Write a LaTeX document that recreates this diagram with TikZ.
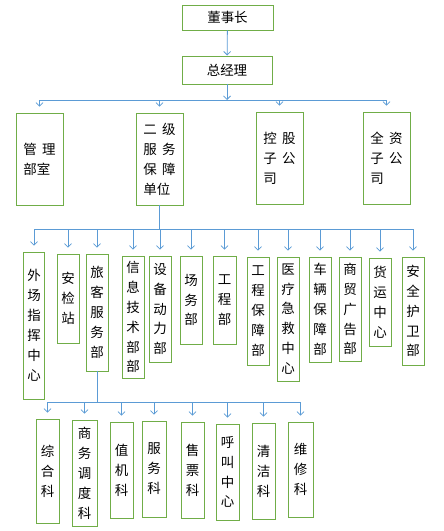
\documentclass[tikz,border=0pt]{standalone}
\usepackage{fontspec}
\newfontfamily\cjk{Noto Sans CJK SC}
\usetikzlibrary{arrows.meta}
\definecolor{boxgreen}{RGB}{112,173,71}
\definecolor{linkblue}{RGB}{91,155,213}
\newcommand{\pxu}{0.03cm}
\tikzset{
	box/.style={draw=boxgreen, line width=0.8pt, inner sep=1pt, align=center,
		font=\cjk\fontsize{11.5}{17}\selectfont},
	unitbox/.style={box, align=left, minimum width=47*\pxu, minimum height=92*\pxu},
	link/.style={draw=linkblue, line width=0.7pt},
	arr/.style={link, -{Straight Barb[length=3pt,width=6pt]}},
	down/.style={arr, shorten >=5pt},
}
\begin{document}
\begin{tikzpicture}[x=0.03cm, y=-0.03cm]
	\useasboundingbox (0,0) rectangle (443,531);
	% top
	\node[box, minimum width=91*\pxu, minimum height=25*\pxu] (ceo) at (227.5,17.5) {董事长};
	\node[box, minimum width=90*\pxu, minimum height=28*\pxu] (gm) at (227,70) {总经理};
	\draw[arr] (ceo) -- (gm);
	% second level
	\node[unitbox] (mgmt) at (39.5,159) {管\hspace{0.4em}理\\部室};
	\node[unitbox] (sec) at (159.5,159) {二\hspace{0.4em}级\\服\hspace{0.4em}务\\保\hspace{0.4em}障\\单位};
	\node[unitbox] (hold) at (279.5,158) {控\hspace{0.4em}股\\子\hspace{0.4em}公\\司};
	\node[unitbox] (full) at (386.5,158) {全\hspace{0.4em}资\\子\hspace{0.4em}公\\司};
	\coordinate (bus2) at (0,100);
	\draw[arr] (gm.south) -- (gm.south |- bus2);
	\draw[link] (mgmt.north |- bus2) -- (full.north |- bus2);
	\foreach \n in {mgmt,sec,hold,full}
		\draw[down] (\n.north |- bus2) -- (\n.north);
	% departments
	\node[box, minimum width=21*\pxu, minimum height=147*\pxu] (d1) at (34,325.5) {外\\场\\指\\挥\\中\\心};
	\node[box, minimum width=22*\pxu, minimum height=89*\pxu] (d2) at (68,298.5) {安\\检\\站};
	\node[box, minimum width=22*\pxu, minimum height=117*\pxu] (d3) at (97,312.5) {旅\\客\\服\\务\\部};
	\node[box, minimum width=22*\pxu, minimum height=122*\pxu] (d4) at (133,317) {信\\息\\技\\术\\部\\部};
	\node[box, minimum width=22*\pxu, minimum height=106*\pxu] (d5) at (160,309) {设\\备\\动\\力\\部};
	\node[box, minimum width=22*\pxu, minimum height=88*\pxu] (d6) at (191,300) {场\\务\\部};
	\node[box, minimum width=23*\pxu, minimum height=88*\pxu] (d7) at (224.5,300) {工\\程\\部};
	\node[box, minimum width=22*\pxu, minimum height=108*\pxu] (d8) at (258,311) {工\\程\\保\\障\\部};
	\node[box, minimum width=22*\pxu, minimum height=124*\pxu] (d9) at (288,319) {医\\疗\\急\\救\\中\\心};
	\node[box, minimum width=22*\pxu, minimum height=105*\pxu] (d10) at (320,309.5) {车\\辆\\保\\障\\部};
	\node[box, minimum width=22*\pxu, minimum height=104*\pxu] (d11) at (350,309) {商\\贸\\广\\告\\部};
	\node[box, minimum width=22*\pxu, minimum height=88*\pxu] (d12) at (380,302) {货\\运\\中\\心};
	\node[box, minimum width=22*\pxu, minimum height=108*\pxu] (d13) at (413,311) {安\\全\\护\\卫\\部};
	\coordinate (bus3) at (0,229);
	\draw[link] (sec) -- (sec.south |- bus3);
	\draw[link] (d1.north |- bus3) -- (d13.north |- bus3);
	\foreach \i in {1,...,13}
		\draw[down] (d\i.north |- bus3) -- (d\i.north);
	% sections
	\node[box, minimum width=23*\pxu, minimum height=104*\pxu] (k1) at (47.5,471) {综\\合\\科};
	\node[box, minimum width=25*\pxu, minimum height=106*\pxu] (k2) at (84.5,473) {商\\务\\调\\度\\科};
	\node[box, minimum width=23*\pxu, minimum height=96*\pxu] (k3) at (121.5,470) {值\\机\\科};
	\node[box, minimum width=24*\pxu, minimum height=96*\pxu] (k4) at (154,469) {服\\务\\科};
	\node[box, minimum width=23*\pxu, minimum height=96*\pxu] (k5) at (192.5,470) {售\\票\\科};
	\node[box, minimum width=23*\pxu, minimum height=96*\pxu] (k6) at (227.5,472) {呼\\叫\\中\\心};
	\node[box, minimum width=23*\pxu, minimum height=96*\pxu] (k7) at (263.5,471) {清\\洁\\科};
	\node[box, minimum width=25*\pxu, minimum height=95*\pxu] (k8) at (300.5,469.5) {维\\修\\科};
	\coordinate (bus4) at (0,402);
	\draw[link] (d3) -- (d3.south |- bus4);
	\draw[link] (k1.north |- bus4) -- (k8.north |- bus4);
	\foreach \i in {1,...,8}
		\draw[down] (k\i.north |- bus4) -- (k\i.north);
\end{tikzpicture}
\end{document}
